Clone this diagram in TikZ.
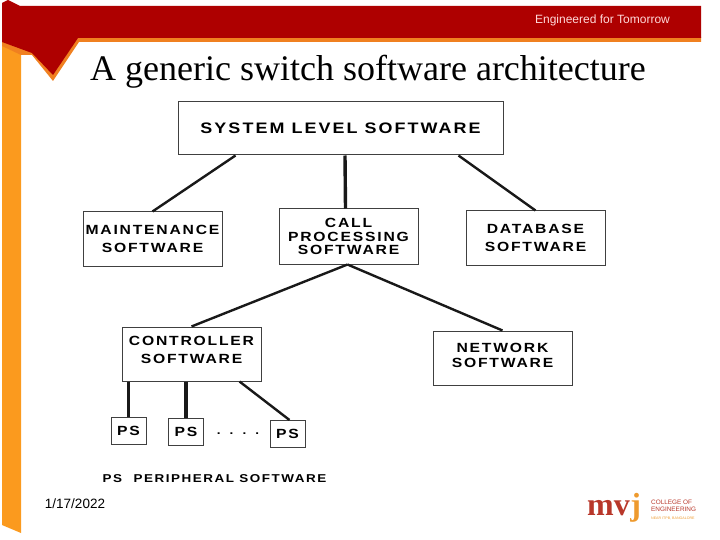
\documentclass[tikz,border=0pt]{standalone}
\usepackage{fontspec}
\usepackage{xcolor}
\usetikzlibrary{positioning,calc}
\setmainfont{Liberation Serif}
\newfontfamily\boxfont[FakeStretch=1.18,LetterSpace=13.5]{Liberation Sans}
\newfontfamily\slidefont{Liberation Sans}
\definecolor{bandred}{HTML}{AE0000}
\definecolor{bandorange}{HTML}{F08020}
\definecolor{barorange}{HTML}{FB9A1E}
\definecolor{logored}{HTML}{B8372A}
\definecolor{logoorange}{HTML}{EE9A2E}
\begin{document}
\begin{tikzpicture}[x=1pt, y=-1pt,
  sw/.style={draw=black!75, line width=1pt, fill=white, align=center, inner sep=0pt, font=\boxfont\bfseries\fontsize{13.3}{18}\selectfont, minimum width=139pt, minimum height=54pt},
  ps/.style={draw=black!75, line width=1pt, fill=white, inner sep=0pt, font=\boxfont\bfseries\fontsize{13.3}{15}\selectfont, minimum width=35pt, minimum height=27pt},
  link/.style={line width=2.4pt, black!90},
  stem/.style={line width=3.4pt, black!90}]
  \useasboundingbox (0,0) rectangle (720,540);
  % slide frame
  \fill[barorange] (2,42) -- (21,50) -- (21,533) -- (2,525) -- cycle;
  \fill[bandorange] (21,55) -- (32,55) -- (53,81) -- (79,42) -- (701,42) -- (701,37) -- (78,37) -- (2,42) -- (2,46) -- cycle;
  \fill[bandred] (2,3) -- (8,0) -- (20,6) -- (701,6) -- (701,38) -- (78,38) -- (53,75) -- (32,53) -- (2,42) -- cycle;
  \node[font=\slidefont\fontsize{12}{14}\selectfont, text=white!85!red] (motto) at (602.5,20) {Engineered for Tomorrow};
  \node[font=\fontsize{36}{40}\selectfont] (title) at (368,72) {A generic switch software architecture};
  % boxes
  \node[sw, minimum width=325pt, minimum height=53pt, font=\boxfont\bfseries\fontsize{15.2}{16}\selectfont] (sys) at (340.5,128.5) {SYSTEM LEVEL SOFTWARE};
  \node[sw] (maint) at (152.5,239) {MAINTENANCE\\SOFTWARE};
  \node[sw, minimum height=55pt, font=\boxfont\bfseries\fontsize{13.3}{13.5}\selectfont] (call) at (348.5,236.5) {CALL\\PROCESSING\\SOFTWARE};
  \node[sw] (db) at (535.5,238) {DATABASE\\SOFTWARE};
  \node[sw] (ctrl) at (191.5,354) {CONTROLLER\\SOFTWARE\\[-10pt]\mbox{}};
  \node[sw] (net) at (502.5,358) {NETWORK\\[-3pt]SOFTWARE\\[-12pt]\mbox{}};
  \node[ps] (psa) at (128.5,431) {PS};
  \node[ps] (psb) at (186,431.5) {PS};
  \node[ps] (psc) at (287.5,434) {PS};
  \node[font=\boxfont\bfseries\fontsize{11.5}{13.5}\selectfont] (dots) at (238,434) {.\hspace{9pt}.\hspace{9pt}.\hspace{9pt}.};
  \node[font=\boxfont\bfseries\fontsize{11.4}{13}\selectfont] (legend) at (214.5,479) {PS\quad PERIPHERAL SOFTWARE};
  % links
  \draw[link] ([xshift=-105pt]sys.south) -- (maint.north);
  \draw[stem] ([xshift=4.5pt]sys.south) -- ([xshift=-3pt]call.north);
  \draw[link] ([xshift=118pt]sys.south) -- (db.north);
  \draw[link] ([xshift=-1pt]call.south) -- (ctrl.north);
  \draw[link] ([xshift=-1pt]call.south) -- (net.north);
  \draw[stem] (psa.north |- ctrl.south) -- (psa.north);
  \draw[stem] (psb.north |- ctrl.south) -- (psb.north);
  \draw[link] ([xshift=48pt]ctrl.south) -- ([xshift=2pt]psc.north);
  % footer
  \node[font=\slidefont\fontsize{13.5}{15}\selectfont] (date) at (75,504) {1/17/2022};
  \node[font=\bfseries\fontsize{32}{34}\selectfont, text=logored, inner sep=0pt, anchor=base west] (logom) at (587,515) {mv};
  \node[font=\bfseries\fontsize{32}{34}\selectfont, text=logoorange, inner sep=0pt, anchor=base west] (logoj) at (logom.base east) {j};
  \node[font=\slidefont\fontsize{6.4}{7.5}\selectfont, text=logored, align=left, anchor=west, inner sep=0pt] (logotxt) at (651,509.5) {COLLEGE OF\\ENGINEERING\\\textcolor{logoorange}{\fontsize{3.6}{7.5}\selectfont NEAR ITPB, BANGALORE}};
\end{tikzpicture}
\end{document}
